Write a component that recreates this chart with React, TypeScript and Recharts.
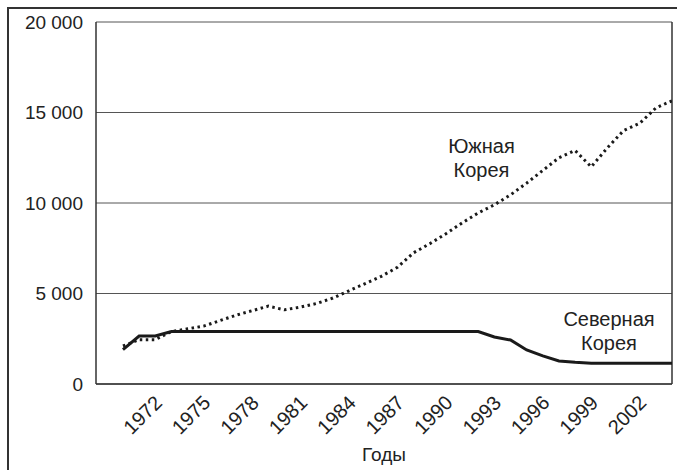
import React from 'react'
import { LineChart, Line, XAxis, YAxis, CartesianGrid, ReferenceLine, ReferenceDot } from 'recharts'

const years = [
  1970, 1971, 1972, 1973, 1974, 1975, 1976, 1977, 1978, 1979, 1980, 1981,
  1982, 1983, 1984, 1985, 1986, 1987, 1988, 1989, 1990, 1991, 1992, 1993,
  1994, 1995, 1996, 1997, 1998, 1999, 2000, 2001, 2002, 2003, 2004,
]

// Южная Корея
const southKorea = [
  2100, 2450, 2450, 2900, 3050, 3200, 3500, 3800, 4050, 4300, 4100, 4250,
  4450, 4750, 5150, 5550, 5950, 6450, 7250, 7750, 8300, 8900, 9450, 9900,
  10450, 11100, 11800, 12500, 12900, 12000, 13050, 14000, 14400, 15250, 15650,
]

// Северная Корея
const northKorea = [
  1900, 2650, 2650, 2900, 2900, 2900, 2900, 2900, 2900, 2900, 2900, 2900,
  2900, 2900, 2900, 2900, 2900, 2900, 2900, 2900, 2900, 2900, 2900, 2600,
  2430, 1880, 1550, 1270, 1200, 1150, 1150, 1150, 1150, 1150, 1150,
]

const xTicks = [1972, 1975, 1978, 1981, 1984, 1987, 1990, 1993, 1996, 1999, 2002]
const yTicks = [0, 5000, 10000, 15000, 20000]

const data = years.map((year, i) => ({ year, south: southKorea[i], north: northKorea[i] }))

const FONT = '"Liberation Sans", Arial, sans-serif'
const INK = '#222'

const fmt = (v: number) => (v >= 1000 ? `${Math.floor(v / 1000)} ${String(v % 1000).padStart(3, '0')}` : String(v))

const YearTick = (props: any) => {
  const { x, y, payload } = props
  const ax = x + 8
  const ay = y + 12
  return (
    <text x={ax} y={ay} transform={`rotate(-45 ${ax} ${ay})`} textAnchor="end" fontSize={20} fill={INK} fontFamily={FONT}>
      {payload.value}
    </text>
  )
}

const TwoLines = (lines: string[]) => (props: any) => {
  const { viewBox } = props
  const cx = viewBox.x
  const cy = viewBox.y
  return (
    <text x={cx} y={cy} textAnchor="middle" fontSize={20} fill={INK} fontFamily={FONT}>
      <tspan x={cx} dy="-0.25em">{lines[0]}</tspan>
      <tspan x={cx} dy="1.2em">{lines[1]}</tspan>
    </text>
  )
}

export default function App() {
  return (
    <div style={{ position: 'absolute', left: 0, top: 0, width: 677, height: 470, overflow: 'hidden', background: '#fff' }}>
      <div
        style={{
          position: 'absolute',
          left: 7,
          top: 7,
          width: 720,
          height: 520,
          borderLeft: '2px solid #333',
          borderTop: '2px solid #333',
        }}
      />
      <div style={{ position: 'absolute', left: 0, top: 0 }}>
        <LineChart width={677} height={470} data={data} margin={{ top: 22, right: 5, left: 0, bottom: 56 }}>
          <CartesianGrid vertical={false} stroke="#555" strokeWidth={1} />
          <XAxis
            dataKey="year"
            type="number"
            height={30}
            domain={[1968.33, 2004]}
            ticks={xTicks}
            interval={0}
            tick={<YearTick />}
            tickLine={false}
            axisLine={{ stroke: '#333', strokeWidth: 1.5 }}
            allowDataOverflow
          />
          <YAxis
            domain={[0, 20000]}
            ticks={yTicks}
            width={96}
            tickFormatter={fmt}
            tickLine={false}
            tickMargin={7}
            axisLine={{ stroke: '#333', strokeWidth: 1.5 }}
            tick={{ fontSize: 19, fill: INK, fontFamily: FONT }}
          />
          <ReferenceLine x={2004} stroke="#333" strokeWidth={1.5} />
          <Line
            type="linear"
            dataKey="south"
            stroke="#1a1a1a"
            strokeWidth={3}
            strokeDasharray="2.5 3.5"
            dot={false}
            isAnimationActive={false}
          />
          <Line type="linear" dataKey="north" stroke="#1a1a1a" strokeWidth={3} dot={false} isAnimationActive={false} />
          <ReferenceDot x={1992.2} y={12500} r={0} label={{ content: TwoLines(['Южная', 'Корея']) }} />
          <ReferenceDot x={2000.1} y={2950} r={0} label={{ content: TwoLines(['Северная', 'Корея']) }} />
        </LineChart>
      </div>
      <div
        style={{
          position: 'absolute',
          left: 96,
          width: 576,
          top: 444,
          textAlign: 'center',
          fontSize: 19,
          fontFamily: FONT,
          color: INK,
        }}
      >
        Годы
      </div>
    </div>
  )
}
